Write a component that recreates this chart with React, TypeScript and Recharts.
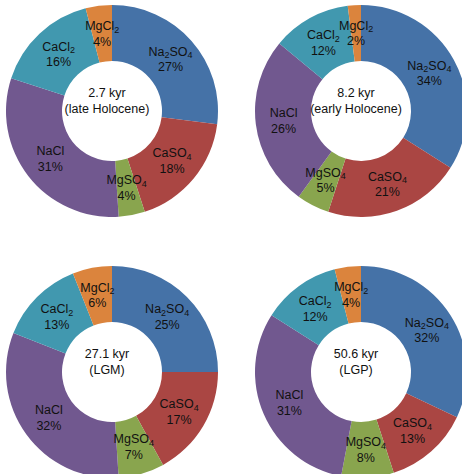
import React from "react";
import { PieChart, Pie, Cell, Label } from "recharts";

const categories = ["Na2SO4", "CaSO4", "MgSO4", "NaCl", "CaCl2", "MgCl2"];
const colors = ["#4572A7", "#AA4643", "#89A54E", "#71588F", "#4198AF", "#DB843D"];

const lateHolocene = [27, 18, 4, 31, 16, 4];
const earlyHolocene = [34, 21, 5, 26, 12, 2];
const lgm = [25, 17, 7, 32, 13, 6];
const lgp = [32, 13, 8, 31, 12, 4];

const ages = ["2.7 kyr", "8.2 kyr", "27.1 kyr", "50.6 kyr"];
const periods = ["(late Holocene)", "(early Holocene)", "(LGM)", "(LGP)"];

const FONT = "'Liberation Sans', Arial, sans-serif";
const RAD = Math.PI / 180;

function nameParts(name: string) {
  return name.split(/(\d+)/).filter((s) => s.length > 0);
}

function SliceLabel(props: any) {
  const { cx, cy, midAngle, innerRadius, outerRadius, index, value } = props;
  const r = (innerRadius + outerRadius) / 2;
  const x = cx + r * Math.cos(-midAngle * RAD);
  const y = cy + r * Math.sin(-midAngle * RAD);
  const parts = nameParts(categories[index]);
  let shifted = false;
  return (
    <g>
      <text x={x} y={y - 3.5} textAnchor="middle" fontFamily={FONT} fontSize={12.5} fill="#111">
        {parts.map((p, i) => {
          const isSub = /^\d+$/.test(p);
          let dy = 0;
          if (isSub && !shifted) {
            dy = 2.5;
            shifted = true;
          } else if (!isSub && shifted) {
            dy = -2.5;
            shifted = false;
          }
          return (
            <tspan key={i} dy={dy} fontSize={isSub ? 9 : 12.5}>
              {p}
            </tspan>
          );
        })}
      </text>
      <text x={x} y={y + 12} textAnchor="middle" fontFamily={FONT} fontSize={12.5} fill="#111">
        {value + "%"}
      </text>
    </g>
  );
}

function Donut({ values, age, period, cx, cy }: any) {
  const data = categories.map((c, i) => ({ name: c, value: values[i] }));
  return (
    <PieChart width={231} height={237}>
      <Pie
        data={data}
        dataKey="value"
        nameKey="name"
        cx={cx}
        cy={cy}
        innerRadius={50}
        outerRadius={106}
        startAngle={90}
        endAngle={-270}
        stroke="none"
        labelLine={false}
        label={SliceLabel}
        isAnimationActive={false}
      >
        {data.map((d, i) => (
          <Cell key={i} fill={colors[i]} />
        ))}
        <Label
          position="center"
          content={(p: any) => {
            const vb = p.viewBox || {};
            const x = vb.cx ?? cx;
            const y = vb.cy ?? cy;
            return (
              <g>
                <text x={x} y={y - 9} textAnchor="middle" fontFamily={FONT} fontSize={12.5} fill="#111">
                  {age}
                </text>
                <text x={x} y={y + 6.5} textAnchor="middle" fontFamily={FONT} fontSize={12.5} fill="#111">
                  {period}
                </text>
              </g>
            );
          }}
        />
      </Pie>
    </PieChart>
  );
}

export default function App() {
  const box = (left: number, top: number): React.CSSProperties => ({
    position: "absolute",
    left,
    top,
    width: 231,
    height: 237,
  });
  return (
    <div style={{ position: "absolute", left: 0, top: 0, width: 462, height: 474, background: "#fff" }}>
      <div style={box(0, 0)}>
        <Donut values={lateHolocene} age={ages[0]} period={periods[0]} cx={107} cy={106} />
      </div>
      <div style={box(231, 0)}>
        <Donut values={earlyHolocene} age={ages[1]} period={periods[1]} cx={125} cy={106} />
      </div>
      <div style={box(0, 237)}>
        <Donut values={lgm} age={ages[2]} period={periods[2]} cx={107} cy={130} />
      </div>
      <div style={box(231, 237)}>
        <Donut values={lgp} age={ages[3]} period={periods[3]} cx={125} cy={130} />
      </div>
    </div>
  );
}
